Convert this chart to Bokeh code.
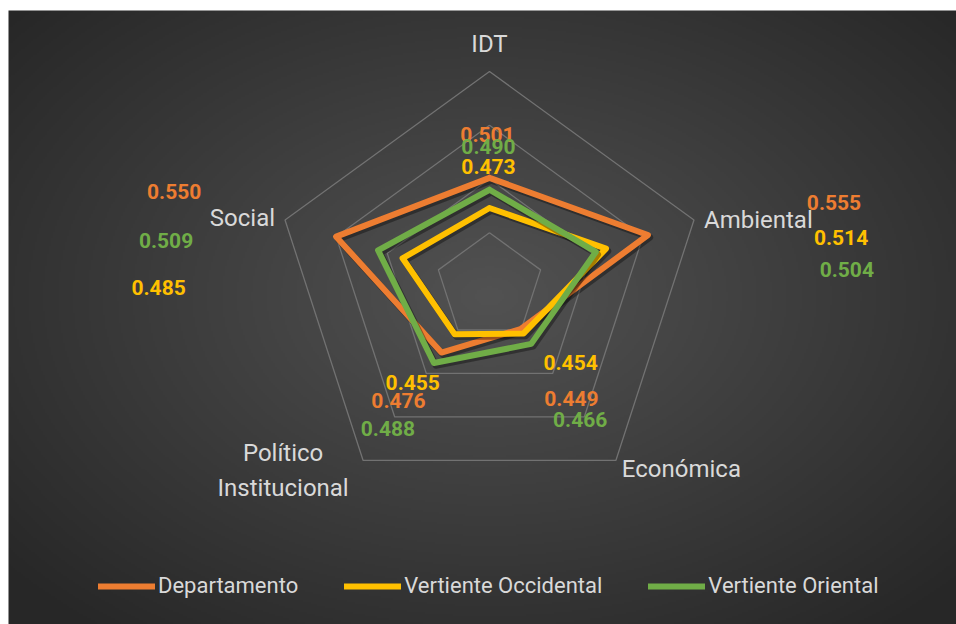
import numpy as np
from bokeh.plotting import figure
from bokeh.models import Range1d, Legend, LegendItem
from bokeh.embed import file_html
from bokeh.resources import INLINE
from bokeh.core.properties import value

# ---------------- data ----------------
categories = ["IDT", "Ambiental", "Económica", "Político Institucional", "Social"]
series_names = ["Departamento", "Vertiente Occidental", "Vertiente Oriental"]
departamento = [0.501, 0.555, 0.449, 0.476, 0.550]
vertiente_occidental = [0.473, 0.514, 0.454, 0.455, 0.485]
vertiente_oriental = [0.490, 0.504, 0.466, 0.488, 0.509]
axis_min = 0.40
axis_max = 0.60
ring_values = [0.45, 0.50, 0.55, 0.60]

# ---------------- style ----------------
colors = ["#ED7D31", "#FFC000", "#70AD47"]
FONT = "Roboto"
W, H = 956, 624
BG_X0, BG_Y0 = 8, 10        # top-left of the dark chart area (pixels)
CX, CY = 489, 286           # radar centre in pixels (from top-left)
S = 215.0                   # pixels per unit radius

# pixel offsets of the data labels from their points (right / down)
label_dx = [[-2, 186, 51, -43, -162],
            [-1, 235, 47, -42, -244],
            [-1, 251, 49, -46, -212]]
label_dy = [[-43, -33, 69, 48, -45],
            [-42, -11, 29, 48, 29],
            [-43, 18, 76, 65, -10]]

# category label placement relative to the outer vertex
cat_dx = [0, 10, 6, -80, -10]
cat_dy = [-28, 0, 9, 10, -2]
cat_align = ["center", "left", "left", "center", "right"]

p = figure(width=W, height=H, output_backend="svg", toolbar_location=None,
           x_range=Range1d(-CX / S, (W - CX) / S),
           y_range=Range1d(-(H - CY) / S, CY / S),
           x_axis_location=None, y_axis_location=None,
           min_border=0, border_fill_color="white",
           background_fill_color="white", outline_line_color=None)
p.grid.visible = False

# radial gradient background of the chart area
bw, bh = W - BG_X0, H - BG_Y0
ny, nx = bh // 2 + 1, bw // 2
yy, xx = np.mgrid[0:ny, 0:nx]
px = BG_X0 + (xx + 0.5) * (bw / nx)
ptop = H - (yy + 0.5) * (bh / ny)
dxg = px - 489
dyg = ptop - 296
t = np.clip(np.sqrt((dxg / 640.0) ** 2 + (dyg / 430.0) ** 2), 0, 1)
g = (82 - 43 * t).astype(np.uint8)
img = np.empty((ny, nx), dtype=np.uint32)
view = img.view(dtype=np.uint8).reshape((ny, nx, 4))
view[..., 0] = g
view[..., 1] = g
view[..., 2] = g
view[..., 3] = 255
p.image_rgba(image=[img], x=(BG_X0 - CX) / S, y=-(H - CY) / S, dw=bw / S, dh=bh / S)

ang = np.deg2rad(90 - 72 * np.arange(len(categories)))


def to_xy(vals):
    r = (np.asarray(vals, dtype=float) - axis_min) / (axis_max - axis_min)
    return r * np.cos(ang), r * np.sin(ang)


def closed(a):
    return np.append(a, a[0])


# grid rings
for rv in ring_values:
    x, y = to_xy([rv] * len(categories))
    p.line(closed(x), closed(y), line_color="#727272", line_width=1.3)

# series
series = [departamento, vertiente_occidental, vertiente_oriental]
renderers = []
for vals, c in zip(series, colors):
    x, y = to_xy(vals)
    p.line(closed(x) + 2 / S, closed(y) - 2.5 / S, line_color="black",
           line_alpha=0.35, line_width=6.5, line_join="round")
    r = p.line(closed(x), closed(y), line_color=c, line_width=6,
               line_join="round", line_cap="round")
    renderers.append(r)

# data labels
for vals, c, ddx, ddy in zip(series, colors, label_dx, label_dy):
    x, y = to_xy(vals)
    lx = x + np.asarray(ddx) / S
    ly = y - np.asarray(ddy) / S
    p.text(x=lx, y=ly, text=[f"{v:.3f}" for v in vals], text_color=c,
           text_font=value(FONT), text_font_style="bold", text_font_size="21px",
           text_align="center", text_baseline="middle")

# category labels
ox, oy = to_xy([axis_max] * len(categories))
for i, name in enumerate(categories):
    p.text(x=[ox[i] + cat_dx[i] / S], y=[oy[i] - cat_dy[i] / S],
           text=[name.replace(" ", "\n")], text_color="#d9d9d9",
           text_font=value(FONT), text_font_size="24px",
           text_align=cat_align[i], text_baseline="middle", text_line_height=1.22)

legend = Legend(items=[LegendItem(label=n, renderers=[r]) for n, r in zip(series_names, renderers)],
                orientation="horizontal", location=(98, 26),
                glyph_width=57, glyph_height=20, label_standoff=3, spacing=46,
                padding=0, margin=0, background_fill_alpha=0, border_line_alpha=0,
                label_text_font=FONT, label_text_font_size="22px",
                label_text_color="#d9d9d9")
p.add_layout(legend)

open("out.html", "w").write(file_html(p, INLINE))
